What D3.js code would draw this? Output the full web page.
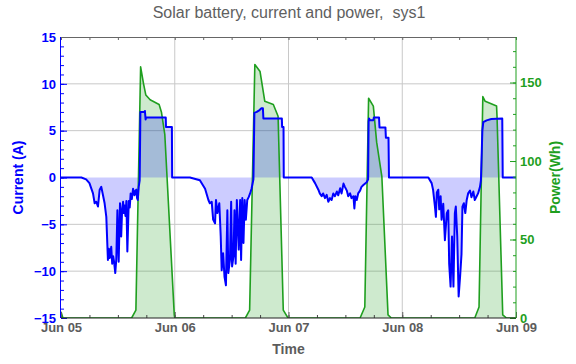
<!DOCTYPE html>
<html lang="en">
<head>
<meta charset="UTF-8">
<title>Solar battery, current and power, sys1</title>
<script src="https://cdn.jsdelivr.net/npm/d3@7"></script>
<style>
  body { margin: 0; background: #fff; }
  text { font-family: "Liberation Sans", Arial, sans-serif; }
</style>
</head>
<body>
<div id="chart"></div>
<script>
// [hours after Jun 05 00:00, battery current (A)]
var currentPoints = [
  [0, 0], [4.3, 0], [5.3, -0.2], [6.0, -0.6], [6.75, -1.7], [7.1, -2.75], [7.45, -2.6], [7.8, -3.1],
  [8.16, -1.3], [8.5, -1.0], [8.86, -1.9], [9.2, -2.75], [9.56, -4.2], [9.9, -8.8], [10.1, -7.6],
  [10.27, -8.6], [10.6, -7.4], [10.8, -9.2], [11.0, -8.4], [11.2, -9.0], [11.45, -10.2], [11.67, -8.7],
  [11.9, -3.5], [12.0, -5.8], [12.17, -9.0], [12.45, -2.75], [12.7, -6.3], [12.9, -3.4], [13.1, -2.6],
  [13.25, -3.8], [13.4, -3.0], [13.6, -4.1], [13.8, -2.5], [14.0, -7.9], [14.3, -2.5], [14.5, -3.2],
  [14.7, -1.7], [14.95, -2.3], [15.2, -1.2], [15.5, -1.9], [15.7, -1.4], [15.9, -1.3], [16.05, -2.2],
  [16.2, -2.4], [16.4, -1.0], [16.6, -0.3],
  [16.75, 7.0], [17.6, 7.0], [17.7, 7.1], [17.85, 6.2], [17.95, 6.4], [22.1, 6.4], [22.15, 5.4],
  [23.4, 5.4], [23.45, 0],
  [27.2, 0], [29.3, -0.3], [30.4, -1.2], [31.1, -2.4], [31.4, -2.75], [31.8, -2.6], [32.1, -4.5],
  [32.5, -4.9], [32.7, -2.4], [33.0, -3.8], [33.4, -2.75], [33.7, -6.3], [33.9, -9.9], [34.2, -8.1],
  [34.5, -10.6], [34.8, -11.5], [35.1, -3.5], [35.3, -10.2], [35.65, -8.8], [35.9, -2.6], [36.1, -9.5],
  [36.4, -8.4], [36.6, -3.5], [36.85, -9.2], [37.1, -2.4], [37.5, -7.7], [37.8, -2.4], [38.0, -8.8],
  [38.25, -2.2], [38.5, -7.0], [38.75, -2.4], [39.0, -4.5], [39.3, -2.4], [39.6, -2.1], [39.9, -1.7],
  [40.2, -1.2], [40.6, -0.2],
  [40.8, 6.9], [41.3, 7.0], [41.9, 7.2], [42.3, 7.4], [42.6, 7.4], [42.7, 6.3], [46.6, 6.3],
  [46.65, 5.4], [46.95, 5.4], [47.0, 0],
  [52.9, 0], [53.6, -0.6], [54.3, -1.3], [54.6, -1.7], [55.0, -2.0], [55.3, -1.7], [55.7, -2.2],
  [56.05, -1.85], [56.4, -2.6], [56.75, -2.2], [57.1, -2.4], [57.45, -1.7], [57.8, -2.0], [58.2, -1.5],
  [58.5, -1.9], [58.9, -1.15], [59.2, -1.7], [59.6, -0.65], [59.9, -1.0], [60.3, -1.4], [60.6, -2.0],
  [61.0, -1.7], [61.3, -2.2], [61.7, -2.0], [61.9, -3.3], [62.1, -2.0], [62.4, -2.4], [62.7, -1.7],
  [63.1, -1.4], [63.4, -1.0], [63.8, -0.8], [64.5, -0.5], [64.8, -0.2],
  [64.9, 6.0], [65.0, 6.3], [65.2, 6.1], [65.9, 6.1], [66.0, 6.4], [67.1, 6.4], [67.2, 5.35],
  [68.45, 5.35], [68.55, 4.25], [69.1, 4.25], [69.2, 0],
  [77.5, 0], [78.2, -0.6], [78.5, -1.3], [78.9, -3.1], [79.1, -4.2], [79.3, -1.6], [79.6, -1.3],
  [79.8, -3.4], [80.1, -2.0], [80.3, -4.5], [80.65, -2.8], [81.0, -6.7], [81.4, -3.8], [81.7, -3.5],
  [81.9, -9.2], [82.2, -11.65], [82.5, -6.3], [82.8, -11.65], [83.1, -3.8], [83.3, -3.1], [83.6, -6.3],
  [83.9, -12.7], [84.2, -10.6], [84.5, -8.2], [84.7, -3.1], [85.0, -2.75], [85.3, -3.8], [85.6, -2.4],
  [85.9, -1.7], [86.3, -1.4], [86.6, -2.1], [87.0, -1.5], [87.3, -2.4], [87.7, -2.0], [88.0, -1.7],
  [88.4, -1.0], [88.6, -0.3],
  [88.9, 5.0], [89.1, 5.9], [89.8, 6.1], [90.8, 6.25], [93.1, 6.3], [93.2, 0], [96, 0]
];

// [hours after Jun 05 00:00, solar power (Wh)]
var powerPoints = [
  [0, 4], [0.4, 0],
  [14.9, 0], [15.8, 5], [16.8, 160], [17.4, 149.5], [17.9, 142], [18.8, 139], [20.7, 136],
  [21.2, 131], [21.9, 117], [23.9, 2], [24.0, 0],
  [38.9, 0], [39.8, 5], [40.9, 161.5], [42.0, 157], [43.0, 138], [44.8, 136], [45.8, 128.5],
  [46.9, 5], [47.9, 0],
  [63.1, 0], [64.1, 7], [64.9, 140], [65.9, 135], [66.6, 112], [67.7, 90], [69.0, 2], [69.7, 0],
  [87.3, 0], [88.2, 7], [89.0, 141], [89.5, 138], [91.9, 135], [92.0, 128], [93.2, 2], [94.0, 0],
  [96, 0]
];

var currentTicks = [-15, -10, -5, 0, 5, 10, 15];
var currentGrid = [-10, -5, 5, 10];
var powerTicks = [0, 50, 100, 150];

var width = 576, height = 364;
var margin = {top: 37, right: 60, bottom: 46, left: 61};
var startDate = new Date(2015, 5, 5);
var endDate = new Date(2015, 5, 9);
var toDate = h => new Date(startDate.getTime() + h * 3600 * 1000);

var svg = d3.select('#chart').append('svg')
    .attr('width', width)
    .attr('height', height);

var x = d3.scaleTime()
    .domain([startDate, endDate])
    .range([margin.left, width - margin.right]);
var y = d3.scaleLinear()
    .domain([-15, 15])
    .range([height - margin.bottom, margin.top]);
var yPower = d3.scaleLinear()
    .domain([0, 179])
    .range([height - margin.bottom, margin.top]);

var blue = '#0000ff';
var green = '#1f9f1f';
var gray = '#5c5c5c';

svg.append('defs').append('clipPath').attr('id', 'plot-clip')
  .append('rect')
    .attr('x', margin.left).attr('y', margin.top)
    .attr('width', width - margin.left - margin.right)
    .attr('height', height - margin.top - margin.bottom);

// grid
svg.append('g').selectAll('line.hgrid')
  .data(currentGrid)
  .join('line')
    .attr('x1', margin.left).attr('x2', width - margin.right)
    .attr('y1', d => y(d)).attr('y2', d => y(d))
    .attr('stroke', '#c8c8c8').attr('stroke-width', 1);
svg.append('g').selectAll('line.vgrid')
  .data(d3.timeDay.range(d3.timeDay.offset(startDate, 1), endDate))
  .join('line')
    .attr('x1', d => x(d)).attr('x2', d => x(d))
    .attr('y1', margin.top).attr('y2', height - margin.bottom)
    .attr('stroke', '#c8c8c8').attr('stroke-width', 1);

var plot = svg.append('g').attr('clip-path', 'url(#plot-clip)');

var powerArea = d3.area()
    .x(d => x(toDate(d[0])))
    .y0(yPower(0))
    .y1(d => yPower(d[1]));
var powerLine = d3.line()
    .x(d => x(toDate(d[0])))
    .y(d => yPower(d[1]));
var currentArea = d3.area()
    .x(d => x(toDate(d[0])))
    .y0(y(0))
    .y1(d => y(d[1]));
var currentLine = d3.line()
    .x(d => x(toDate(d[0])))
    .y(d => y(d[1]));

plot.append('path').datum(powerPoints)
    .attr('d', powerArea)
    .attr('fill', 'rgba(34,160,34,0.22)');
plot.append('path').datum(currentPoints)
    .attr('d', currentArea)
    .attr('fill', 'rgba(0,0,255,0.2)');
plot.append('path').datum(powerPoints)
    .attr('d', powerLine)
    .attr('fill', 'none')
    .attr('stroke', green)
    .attr('stroke-width', 1.6)
    .attr('stroke-linejoin', 'round');
plot.append('path').datum(currentPoints)
    .attr('d', currentLine)
    .attr('fill', 'none')
    .attr('stroke', blue)
    .attr('stroke-width', 2)
    .attr('stroke-linejoin', 'round');

// axes (ticks point inward like the original frame)
function styleAxis(g, color) {
  g.select('.domain').remove();
  g.selectAll('line').attr('stroke', color);
  g.selectAll('text')
    .attr('fill', color)
    .attr('font-size', 13)
    .attr('font-weight', 'bold')
    .attr('font-family', '"Liberation Sans", Arial, sans-serif');
}

var xBottom = height - margin.bottom;
svg.append('g')
    .attr('transform', `translate(0,${xBottom})`)
    .call(d3.axisBottom(x).ticks(d3.timeHour.every(6)).tickSize(-3).tickFormat(''))
    .call(g => styleAxis(g, '#444'));
svg.append('g')
    .attr('transform', `translate(0,${xBottom})`)
    .call(d3.axisBottom(x).ticks(d3.timeDay.every(1)).tickSize(-6).tickPadding(5)
      .tickFormat(d3.timeFormat('%b %d')))
    .call(g => styleAxis(g, gray));
svg.append('g')
    .attr('transform', `translate(0,${margin.top})`)
    .call(d3.axisTop(x).ticks(d3.timeHour.every(6)).tickSize(-3).tickFormat(''))
    .call(g => styleAxis(g, '#666'));

svg.append('g')
    .attr('transform', `translate(${margin.left},0)`)
    .call(d3.axisLeft(y).tickValues(d3.range(-15, 16, 1)).tickSize(-3).tickFormat(''))
    .call(g => styleAxis(g, blue));
svg.append('g')
    .attr('transform', `translate(${margin.left},0)`)
    .call(d3.axisLeft(y).tickValues(currentTicks).tickSize(-6).tickPadding(5))
    .call(g => styleAxis(g, blue));

var xRight = width - margin.right;
svg.append('g')
    .attr('transform', `translate(${xRight},0)`)
    .call(d3.axisRight(yPower).tickValues(d3.range(0, 180, 10)).tickSize(-3).tickFormat(''))
    .call(g => styleAxis(g, green));
svg.append('g')
    .attr('transform', `translate(${xRight},0)`)
    .call(d3.axisRight(yPower).tickValues(powerTicks).tickSize(-6).tickPadding(4))
    .call(g => styleAxis(g, green));

// frame
svg.append('line')
    .attr('x1', margin.left).attr('x2', xRight)
    .attr('y1', margin.top + 0.5).attr('y2', margin.top + 0.5)
    .attr('stroke', '#666');
svg.append('line')
    .attr('x1', margin.left).attr('x2', xRight)
    .attr('y1', xBottom).attr('y2', xBottom)
    .attr('stroke', '#222');
svg.append('line')
    .attr('x1', margin.left - 0.5).attr('x2', margin.left - 0.5)
    .attr('y1', margin.top).attr('y2', xBottom)
    .attr('stroke', blue);
svg.append('line')
    .attr('x1', xRight).attr('x2', xRight)
    .attr('y1', margin.top).attr('y2', xBottom)
    .attr('stroke', green);

// labels
svg.append('text')
    .attr('x', 289).attr('y', 18)
    .attr('text-anchor', 'middle')
    .attr('font-size', 16)
    .attr('fill', '#606060')
    .attr('xml:space', 'preserve')
    .text('Solar battery, current and power,  sys1');

svg.append('text')
    .attr('x', (margin.left + xRight) / 2).attr('y', 354)
    .attr('text-anchor', 'middle')
    .attr('font-size', 14)
    .attr('font-weight', 'bold')
    .attr('fill', gray)
    .text('Time');

svg.append('text')
    .attr('transform', `translate(23,${y(0)}) rotate(-90)`)
    .attr('text-anchor', 'middle')
    .attr('font-size', 14)
    .attr('font-weight', 'bold')
    .attr('fill', blue)
    .text('Current (A)');

svg.append('text')
    .attr('transform', `translate(560,${y(0)}) rotate(-90)`)
    .attr('text-anchor', 'middle')
    .attr('font-size', 14)
    .attr('font-weight', 'bold')
    .attr('fill', green)
    .text('Power(Wh)');
</script>
</body>
</html>
